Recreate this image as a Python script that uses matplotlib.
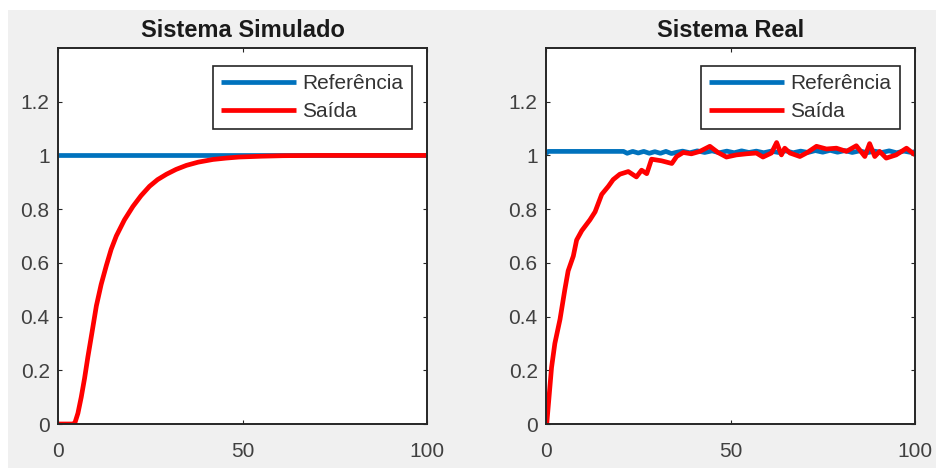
import matplotlib.pyplot as plt
from matplotlib.patches import Rectangle

# Sistema Simulado: referencia constante e saida com atraso
sim_ref_t = [0, 100]
sim_ref_y = [1.0, 1.0]
sim_out_t = [0, 2, 4.0, 4.6, 5.4, 6.3, 7.2, 8.1, 9.2, 10.4, 11.7, 13.1, 14.4, 15.8,
             18.0, 20.3, 22.5, 24.8, 27.0, 29.4, 32.0, 34.8, 38.0, 42.0, 45.5,
             49.0, 55.0, 61.0, 70.0, 80.0, 100.0]
sim_out_y = [0, 0, 0, 0.005, 0.04, 0.10, 0.17, 0.25, 0.34, 0.44, 0.52, 0.59, 0.65,
             0.70, 0.76, 0.81, 0.85, 0.885, 0.91, 0.93, 0.948, 0.963, 0.975, 0.985,
             0.99, 0.994, 0.997, 0.999, 1.0, 1.0, 1.0]

# Sistema Real: dados medidos
real_ref_t = [0, 0.6, 21, 22, 23.5, 25, 26.5, 28, 29.5, 31, 32.5, 34, 35.5, 37, 39,
              41, 43, 45, 47, 49, 51, 53, 55, 57, 59, 61, 63, 65, 67, 69, 71, 73,
              75, 77, 79, 81, 83, 85, 87, 89, 91, 93, 95, 97, 99, 100]
real_ref_y = [1.007, 1.015, 1.015, 1.008, 1.015, 1.009, 1.015, 1.008, 1.014, 1.008,
              1.015, 1.007, 1.012, 1.016, 1.010, 1.017, 1.011, 1.017, 1.010, 1.016,
              1.010, 1.017, 1.011, 1.016, 1.010, 1.016, 1.011, 1.017, 1.010, 1.016,
              1.011, 1.018, 1.012, 1.019, 1.012, 1.018, 1.011, 1.017, 1.010, 1.016,
              1.011, 1.017, 1.010, 1.016, 1.011, 1.014]
real_out_t = [0.2, 1.5, 2.4, 3.8, 5.1, 6.0, 7.4, 8.3, 9.7, 11.9, 13.3, 15.1, 16.9,
              18.2, 20.0, 22.3, 24.5, 25.9, 27.3, 28.6, 31.3, 34.1, 35.4, 37.2, 39.4,
              41.7, 44.4, 46.6, 48.9, 51.6, 54.3, 57.0, 58.8, 61.1, 62.5, 63.8, 64.7,
              66.1, 68.8, 70.6, 73.3, 76.0, 78.7, 81.4, 84.1, 86.4, 87.7, 89.1, 90.4,
              92.2, 94.9, 97.7, 100.0]
real_out_y = [0, 0.21, 0.30, 0.39, 0.50, 0.57, 0.625, 0.685, 0.72, 0.76, 0.79, 0.855,
              0.885, 0.91, 0.93, 0.94, 0.92, 0.945, 0.932, 0.986, 0.98, 0.97, 0.996,
              1.011, 1.006, 1.015, 1.034, 1.011, 0.994, 1.002, 1.006, 1.009, 0.994,
              1.009, 1.048, 1.002, 1.027, 1.009, 0.996, 1.009, 1.034, 1.024, 1.027,
              1.015, 1.036, 0.996, 1.044, 0.996, 1.015, 0.99, 1.002, 1.027, 1.002]

legend_labels = ['Referência', 'Saída']
y_ticks = [0, 0.2, 0.4, 0.6, 0.8, 1, 1.2]
y_tick_labels = ['0', '0.2', '0.4', '0.6', '0.8', '1', '1.2']
x_ticks = [0, 50, 100]

plt.rcParams['font.family'] = ['Liberation Sans', 'DejaVu Sans']

BLUE = '#0072BD'
RED = '#FF0000'
AXC = '#262626'

fig = plt.figure(figsize=(9.36, 4.68), dpi=100, facecolor='white')
fig.patches.append(Rectangle((8 / 936, 0), 1, 1 - 10 / 468, transform=fig.transFigure,
                             facecolor='#f0f0f0', edgecolor='none', zorder=-10))

panels = [
    ('Sistema Simulado', 58, sim_ref_t, sim_ref_y, sim_out_t, sim_out_y),
    ('Sistema Real', 546, real_ref_t, real_ref_y, real_out_t, real_out_y),
]

for title, left_px, rt, ry, ot, oy in panels:
    ax = fig.add_axes([left_px / 936, 44 / 468, 369 / 936, 376 / 468])
    ax.plot(rt, ry, color=BLUE, lw=3.4, label=legend_labels[0], solid_capstyle='butt')
    ax.plot(ot, oy, color=RED, lw=3.4, label=legend_labels[1], solid_capstyle='butt')
    ax.set_xlim(0, 100)
    ax.set_ylim(0, 1.4)
    ax.set_xticks(x_ticks)
    ax.set_yticks(y_ticks)
    ax.set_yticklabels(y_tick_labels)
    ax.tick_params(direction='in', length=3, width=0.8, colors=AXC, labelcolor='#404040',
                   labelsize=15, top=True, right=True, pad=6)
    ax.tick_params(axis='x', pad=13)
    for s in ax.spines.values():
        s.set_color(AXC)
        s.set_linewidth(1.4)
    ax.set_title(title, fontsize=17, fontweight='bold', color='#1a1a1a', pad=8)
    leg = ax.legend(loc='upper right', bbox_to_anchor=(0.959, 0.952), fontsize=15,
                    fancybox=False, framealpha=1, edgecolor=AXC, handlelength=3.6,
                    handletextpad=0.3, borderpad=0.4, labelspacing=0.42,
                    borderaxespad=0)
    leg.get_frame().set_linewidth(1.2)
    for t in leg.get_texts():
        t.set_color('#333333')

fig.savefig('out.png', dpi=100, facecolor=fig.get_facecolor())
